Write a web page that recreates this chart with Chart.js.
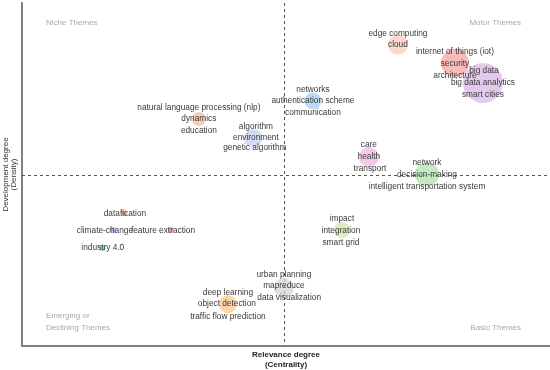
<!DOCTYPE html>
<html>
<head>
<meta charset="utf-8">
<script src="https://cdn.jsdelivr.net/npm/chart.js@4.4.0/dist/chart.umd.min.js"></script>
<style>
  html, body { margin: 0; padding: 0; background: #fff; }
  #wrap { width: 550px; height: 370px; }
</style>
</head>
<body>
<div id="wrap"><canvas id="themeMap"></canvas></div>
<script>
const FONT = '"Liberation Sans", Arial, Helvetica, sans-serif';

// clusters (bubbles): centrality, density, size
const clusterNames = ['dynamics', 'environment', 'authentication scheme', 'cloud', 'security',
  'big data analytics', 'health', 'decision-making', 'integration', 'mapreduce',
  'object detection', 'datafication', 'climate-change', 'feature extraction', 'industry 4.0'];
const clusterCentrality = [33.5, 43.8, 55.1, 71.2, 82.0, 87.3, 65.7, 76.7, 60.6, 49.6, 39.0, 19.3, 17.2, 28.2, 15.2];
const clusterDensity = [66.2, 60.6, 71.4, 87.8, 82.5, 76.7, 55.1, 50.1, 33.8, 16.9, 12.2, 38.8, 33.8, 33.8, 28.6];
const clusterSize = [7, 9, 8.5, 10, 14, 20, 10, 12, 8, 10, 9, 3, 3, 3, 3];
const clusterColors = [
  'rgba(240,170,140,0.6)', 'rgba(185,200,235,0.65)', 'rgba(165,205,240,0.75)',
  'rgba(250,190,175,0.6)', 'rgba(245,140,140,0.6)', 'rgba(215,180,228,0.7)',
  'rgba(240,180,222,0.7)', 'rgba(170,225,170,0.7)', 'rgba(205,232,170,0.75)',
  'rgba(212,212,212,0.7)', 'rgba(250,200,140,0.75)', 'rgba(235,160,130,0.8)',
  'rgba(190,160,230,0.8)', 'rgba(230,150,180,0.8)', 'rgba(110,200,170,0.8)'
];

// keyword labels shown around the clusters
const keywordText = [
  'natural language processing (nlp)', 'dynamics', 'education',
  'algorithm', 'environment', 'genetic algorithm',
  'networks', 'authentication scheme', 'communication',
  'edge computing', 'cloud',
  'internet of things (iot)', 'security', 'architecture',
  'big data', 'big data analytics', 'smart cities',
  'care', 'health', 'transport',
  'network', 'decision-making', 'intelligent transportation system',
  'impact', 'integration', 'smart grid',
  'urban planning', 'mapreduce', 'data visualization',
  'deep learning', 'object detection', 'traffic flow prediction',
  'datafication', 'climate-change', 'feature extraction', 'industry 4.0'
];
const keywordCentrality = [
  33.5, 33.5, 33.5,
  44.3, 44.3, 44.1,
  55.1, 55.1, 55.1,
  71.2, 71.2,
  82.0, 82.0, 82.0,
  87.5, 87.3, 87.3,
  65.7, 65.7, 65.9,
  76.7, 76.7, 76.7,
  60.6, 60.4, 60.4,
  49.6, 49.6, 50.6,
  39.0, 38.8, 39.0,
  19.5, 15.7, 26.7, 15.3
];
const keywordDensity = [
  69.4, 66.2, 62.7,
  63.8, 60.6, 57.7,
  74.6, 71.4, 67.9,
  91.0, 87.8,
  85.7, 82.2, 78.7,
  80.2, 76.7, 73.2,
  58.6, 55.1, 51.6,
  53.4, 49.9, 46.4,
  37.0, 33.5, 30.0,
  20.7, 17.5, 14.0,
  15.5, 12.2, 8.5,
  38.5, 33.5, 33.5, 28.6
];

const centralityCut = 49.6;
const densityCut = 50;

const quadrantPlugin = {
  id: 'quadrants',
  beforeDatasetsDraw(chart) {
    const { ctx, chartArea, scales } = chart;
    const xCut = scales.x.getPixelForValue(centralityCut);
    const yCut = scales.y.getPixelForValue(densityCut);
    ctx.save();
    ctx.strokeStyle = '#555';
    ctx.lineWidth = 1;
    ctx.setLineDash([3, 3]);
    ctx.beginPath();
    ctx.moveTo(Math.round(xCut) + 0.5, chartArea.top);
    ctx.lineTo(Math.round(xCut) + 0.5, chartArea.bottom);
    ctx.moveTo(chartArea.left, Math.round(yCut) + 0.5);
    ctx.lineTo(chartArea.right, Math.round(yCut) + 0.5);
    ctx.stroke();
    ctx.setLineDash([]);

    ctx.font = '8px ' + FONT;
    ctx.fillStyle = '#a8a8a8';
    ctx.textBaseline = 'middle';
    ctx.textAlign = 'left';
    ctx.fillText('Niche Themes', chartArea.left + 24, chartArea.top + 20);
    ctx.fillText('Emerging or', chartArea.left + 24, chartArea.bottom - 30);
    ctx.fillText('Declining Themes', chartArea.left + 24, chartArea.bottom - 18);
    ctx.textAlign = 'right';
    ctx.fillText('Motor Themes', chartArea.right - 29, chartArea.top + 20);
    ctx.fillText('Basic Themes', chartArea.right - 29, chartArea.bottom - 18);
    ctx.restore();
  },
  afterDatasetsDraw(chart) {
    const { ctx } = chart;
    const meta = chart.getDatasetMeta(1);
    ctx.save();
    ctx.font = '8.3px ' + FONT;
    ctx.fillStyle = '#3a3a3a';
    ctx.textAlign = 'center';
    ctx.textBaseline = 'middle';
    meta.data.forEach((el, i) => {
      ctx.fillText(keywordText[i], el.x, el.y);
    });
    ctx.restore();
  }
};

new Chart(document.getElementById('themeMap'), {
  type: 'bubble',
  data: {
    datasets: [
      {
        label: 'clusters',
        data: clusterNames.map((n, i) => ({ x: clusterCentrality[i], y: clusterDensity[i], r: clusterSize[i] })),
        backgroundColor: clusterColors,
        borderWidth: 0
      },
      {
        label: 'keywords',
        type: 'scatter',
        data: keywordText.map((t, i) => ({ x: keywordCentrality[i], y: keywordDensity[i] })),
        pointRadius: 0,
        pointHoverRadius: 0
      }
    ]
  },
  options: {
    responsive: true,
    maintainAspectRatio: false,
    animation: false,
    layout: { autoPadding: false, padding: { top: 3, right: 0, left: 0, bottom: 0 } },
    plugins: {
      legend: { display: false },
      tooltip: { enabled: false }
    },
    scales: {
      x: {
        min: 0, max: 100,
        ticks: { display: false },
        grid: { display: false },
        border: { display: true, color: '#808080', width: 2 },
        title: {
          display: true,
          text: ['Relevance degree', '(Centrality)'],
          color: '#222',
          font: { family: FONT, size: 8, weight: 'bold', lineHeight: 1.3 },
          padding: { top: 0, bottom: 0 }
        },
        afterFit: s => { s.height = 24; }
      },
      y: {
        min: 0, max: 100,
        ticks: { display: false },
        grid: { display: false },
        border: { display: true, color: '#808080', width: 2 },
        title: {
          display: true,
          text: ['Development degree', '(Density)'],
          color: '#333',
          font: { family: FONT, size: 8, lineHeight: 1.1 },
          padding: { top: 1, bottom: 0 }
        },
        afterFit: s => { s.width = 22; }
      }
    }
  },
  plugins: [quadrantPlugin]
});
</script>
</body>
</html>
